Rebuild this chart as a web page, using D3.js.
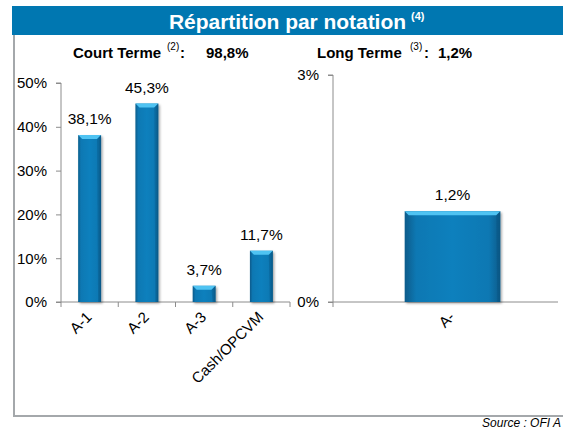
<!DOCTYPE html>
<html><head><meta charset="utf-8">
<script src="https://cdn.jsdelivr.net/npm/d3@7"></script>
<style>
body{margin:0;background:#fff;}
svg{display:block;font-family:"Liberation Sans",Arial,sans-serif;}
</style></head>
<body>
<script>
const ctCategories = ["A-1","A-2","A-3","Cash/OPCVM"];
const ctValues = [0.381,0.453,0.037,0.117];
const ctTicks = [0,0.1,0.2,0.3,0.4,0.5];
const ltCategories = ["A-"];
const ltValues = [0.012];
const ltTicks = [0,0.03];
const titleText = "Répartition par notation";
const ctLabel = "Court Terme", ctTotal = "98,8%";
const ltLabel = "Long Terme", ltTotal = "1,2%";

const W=563,H=430;
const fr = d3.formatLocale({decimal:",",thousands:" ",grouping:[3],currency:["","€"]});
const pct0 = fr.format(".0%"), pct1 = fr.format(".1%");

const svg = d3.select("body").append("svg").attr("width",W).attr("height",H);
const defs = svg.append("defs");
const g = defs.append("linearGradient").attr("id","barg").attr("x1","0").attr("x2","1").attr("y1","0").attr("y2","0");
[[0,"#075b8a"],[0.12,"#0a78b3"],[0.5,"#0b80bd"],[0.88,"#0a78b3"],[1,"#075b8a"]].forEach(([o,c])=>g.append("stop").attr("offset",o).attr("stop-color",c));
const f = defs.append("filter").attr("id","sh").attr("x","-20%").attr("y","-20%").attr("width","150%").attr("height","150%");
f.append("feDropShadow").attr("dx",1.5).attr("dy",1.5).attr("stdDeviation",1.2).attr("flood-color","#000").attr("flood-opacity",0.35);

// header
svg.append("rect").attr("x",12).attr("y",6).attr("width",W-12).attr("height",29).attr("fill","#0077b1");
const tt = svg.append("text").attr("x",169).attr("y",28.5).attr("fill","#fff")
  .attr("font-weight","bold").attr("font-size",21);
tt.append("tspan").attr("textLength",237).text(titleText);
tt.append("tspan").attr("x",411).attr("dy",-9).attr("font-size",11).text("(4)");

// frame
svg.append("path").attr("d",`M14,35V416H${W}`).attr("fill","none").attr("stroke","#a4a8ab").attr("stroke-width",2);

function subtitle(x,label,supX,sup,colonX,total,totalX){
  const t = svg.append("text").attr("x",x).attr("y",57.5).attr("font-weight","bold").attr("font-size",15).attr("fill","#000");
  t.append("tspan").text(label);
  t.append("tspan").attr("x",supX).attr("dy",-8).attr("font-size",10).attr("font-weight","normal").text(sup);
  t.append("tspan").attr("x",colonX).attr("dy",8).text(":");
  t.append("tspan").attr("x",totalX).text(total);
}
subtitle(73,ctLabel,167,"(2)",180,ctTotal,206);
subtitle(317,ltLabel,410,"(3)",424,ltTotal,438);

function chart(cats,vals,ticks,yDomain,yTop,xRange,axisEnd,labelGap){
  const y = d3.scaleLinear().domain(yDomain).range([302,yTop]);
  const x = d3.scaleBand().domain(cats).range(xRange).paddingInner(0.6).paddingOuter(0.3);
  const x0 = xRange[0];
  const ya = svg.append("g").attr("transform",`translate(${x0},0)`)
    .call(d3.axisLeft(y).tickValues(ticks).tickFormat(pct0).tickSize(5).tickPadding(labelGap));
  ya.selectAll("line,path").attr("stroke","#8c8c8c");
  ya.select(".domain").attr("d",`M-5,${y(yDomain[1])}H0V${y(0)}H-5`);
  ya.selectAll("text").attr("font-size",15).attr("fill","#000").attr("font-family","Liberation Sans, Arial, sans-serif");
  const xa = svg.append("g").attr("transform",`translate(0,${y(0)})`)
    .call(d3.axisBottom(x).tickSize(0).tickPadding(0));
  xa.select(".domain").attr("stroke","#8c8c8c").attr("d",`M${x0},0H${axisEnd}`);
  xa.selectAll("text").attr("font-size",15).attr("fill","#000").attr("font-family","Liberation Sans, Arial, sans-serif")
    .attr("text-anchor","end").attr("y",0).attr("dy",0)
    .attr("transform","translate(3,16) rotate(-45)");
  const step = x.step(), bw = x.bandwidth();
  const bounds = cats.map(c=>x(c)-(step-bw)/2).concat([x(cats[cats.length-1])+bw+(step-bw)/2]);
  xa.selectAll(".bt").data(bounds.filter(b=>b<=axisEnd+1)).enter().append("line")
    .attr("x1",d=>d).attr("x2",d=>d).attr("y1",0).attr("y2",5).attr("stroke","#8c8c8c");
  const bars = svg.append("g");
  cats.forEach((c,i)=>{
    const v = vals[i], bx = x(c), by = y(v), bh = y(0)-y(v);
    bars.append("rect").attr("x",bx).attr("y",by).attr("width",bw).attr("height",bh)
      .attr("fill","url(#barg)").attr("filter","url(#sh)");
    bars.append("path").attr("d",`M${bx},${by}H${bx+bw}L${bx+bw-4},${by+4}H${bx+4}Z`).attr("fill","#4fc3f2");
    bars.append("path").attr("d",`M${bx+bw-4},${by+4}L${bx+bw},${by}V${y(0)}L${bx+bw-3},${y(0)}Z`).attr("fill","#06507a").attr("opacity",0.35);
    svg.append("text").attr("x",bx+bw/2).attr("y",by-11).attr("text-anchor","middle")
      .attr("font-size",15.5).attr("fill","#000").text(pct1(v));
  });
}
chart(ctCategories,ctValues,ctTicks,[0,0.5],83,[61,290],290,9);
chart(ltCategories,ltValues,ltTicks,[0,0.03],75,[333,572],558,9);

svg.append("text").attr("x",561).attr("y",426.5).attr("text-anchor","end").attr("font-size",12).attr("font-style","italic").attr("fill","#000").text("Source : OFI A");
</script>
</body></html>
